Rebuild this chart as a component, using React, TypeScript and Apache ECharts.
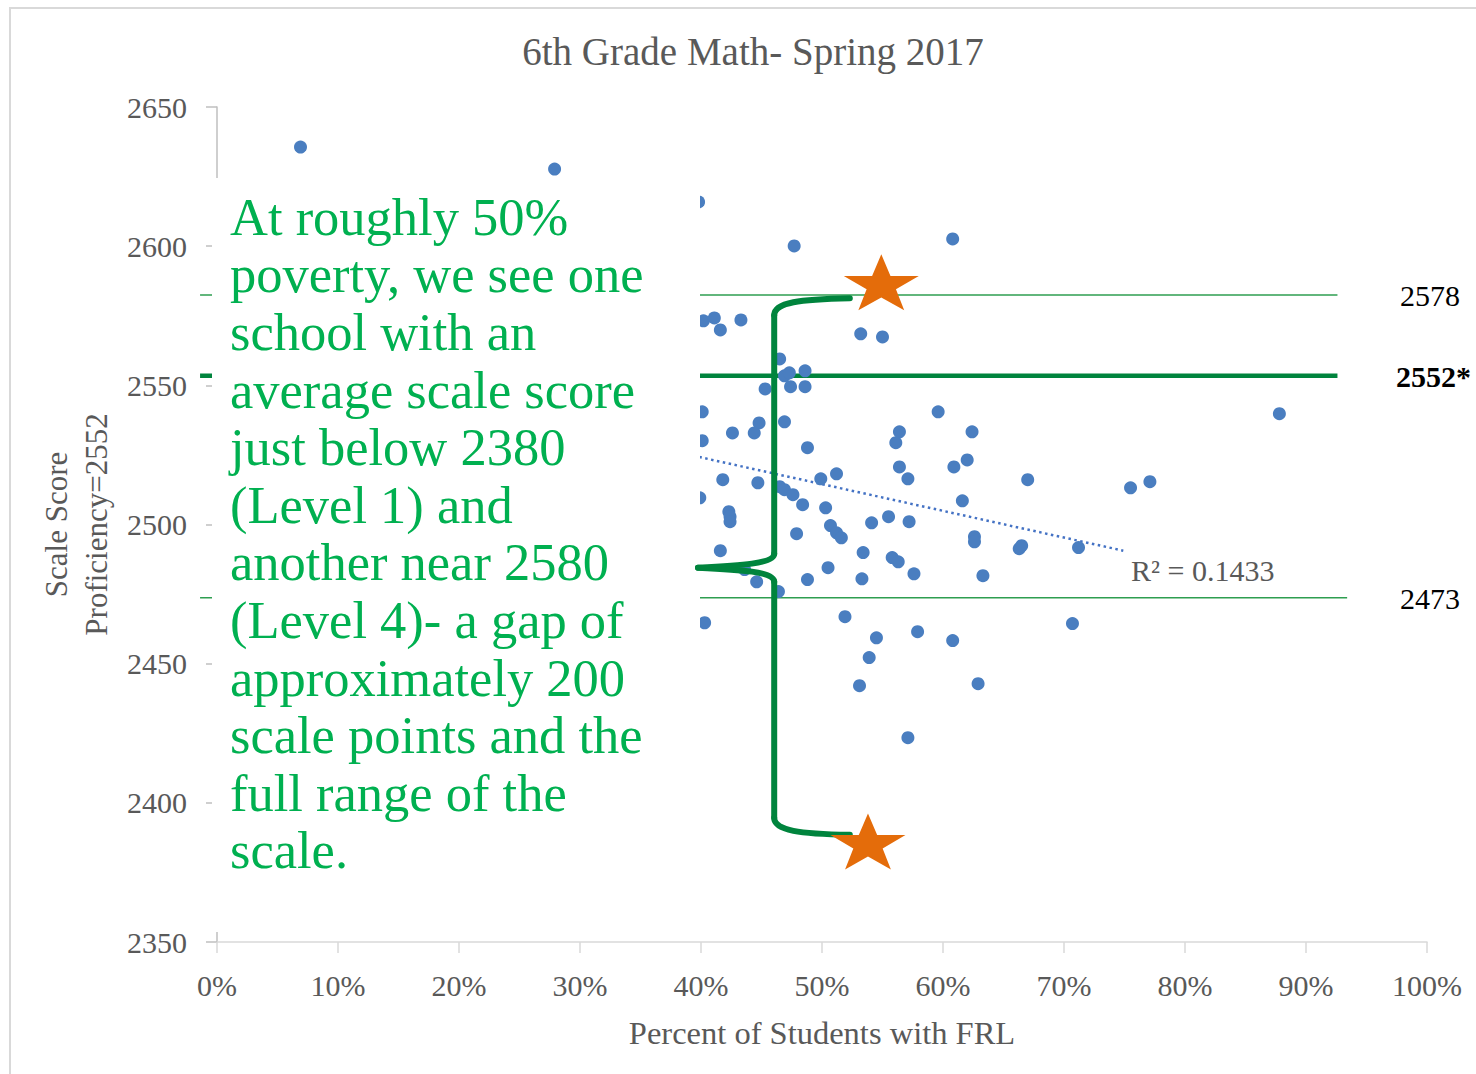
import { useEffect, useRef } from "react";
import * as echarts from "echarts";

// ---- data ----
const chartTitle = "6th Grade Math- Spring 2017";
const xAxisTitle = "Percent of Students with FRL";
const yAxisTitle = "Scale Score\nProficiency=2552";
const xTickValues = [0, 10, 20, 30, 40, 50, 60, 70, 80, 90, 100];
const yTickValues = [2350, 2400, 2450, 2500, 2550, 2600, 2650];

// [percent FRL, average scale score]
const schoolPoints: [number, number][] = [
  [6.9, 2635.6], [27.9, 2627.7], [39.8, 2615.9], [47.7, 2600.1], [60.8, 2602.6],
  [40.2, 2573.2], [41.1, 2574.2], [41.6, 2569.9], [43.3, 2573.5], [53.2, 2568.5],
  [55.0, 2567.4], [46.5, 2559.5], [46.9, 2553.4], [47.3, 2554.5], [48.6, 2555.2],
  [45.3, 2548.7], [47.4, 2549.5], [48.6, 2549.5], [40.1, 2540.5], [44.8, 2536.5],
  [46.9, 2536.9], [42.6, 2532.9], [44.4, 2532.9], [59.6, 2540.5], [56.4, 2533.3],
  [56.1, 2529.4], [62.4, 2533.3], [40.1, 2530.1], [48.8, 2527.6], [56.4, 2520.7],
  [57.1, 2516.4], [60.9, 2520.7], [62.0, 2523.2], [41.8, 2516.1], [44.7, 2515.0],
  [49.9, 2516.4], [51.2, 2518.2], [46.5, 2513.6], [46.9, 2512.5], [47.6, 2510.7],
  [39.9, 2509.6], [48.4, 2507.1], [50.3, 2506.0], [61.6, 2508.5], [42.3, 2504.6],
  [42.4, 2502.8], [42.4, 2501.0], [50.7, 2499.6], [51.2, 2497.0], [51.6, 2495.2],
  [47.9, 2496.7], [54.1, 2500.6], [55.5, 2502.8], [57.2, 2501.0], [62.6, 2495.6],
  [62.6, 2493.8], [41.6, 2490.6], [53.4, 2489.9], [55.8, 2488.1], [56.3, 2486.6],
  [57.6, 2482.3], [50.5, 2484.5], [63.3, 2481.6], [53.3, 2480.5], [48.8, 2480.2],
  [44.6, 2479.4], [43.6, 2483.8], [46.4, 2475.9], [40.3, 2464.7], [51.9, 2466.9],
  [54.5, 2459.3], [57.9, 2461.5], [60.8, 2458.3], [53.9, 2452.2], [53.1, 2442.1],
  [62.9, 2442.8], [57.1, 2423.4], [87.8, 2539.8], [67.0, 2516.1], [75.5, 2513.2],
  [77.1, 2515.4], [66.3, 2491.3], [66.5, 2492.4], [71.2, 2491.7], [70.7, 2464.4],
];

const trendPoints: [number, number][] = [[5, 2557.7], [74.9, 2490.6]];
const rSquaredText = "R\u00B2 = 0.1433";
const rSquaredAt: [number, number] = [75.0, 2483.4];

// reference levels: label text and where the hand-drawn line sits
const levelLabels = ["2578", "2552*", "2473"];
const levelLineAt = [2582.5, 2553.4, 2473.7];
const levelLineEnds = [92.6, 92.6, 93.4];

const starPoints: [number, number][] = [[54.9, 2587.0], [53.8, 2386.1]];

const noteLines = [
  "At roughly 50%",
  "poverty, we see one",
  "school with an",
  "average scale score",
  "just below 2380",
  "(Level 1) and",
  "another near 2580",
  "(Level 4)- a gap of",
  "approximately 200",
  "scale points and the",
  "full range of the",
  "scale.",
];

// brace annotation in data space
const brace = { x: 46.05, tipX: 39.75, endX: 52.3, top: 2581.3, bottom: 2388.5, tip: 2484.5 };

const SERIF = "'Liberation Serif', 'DejaVu Serif', serif";
const GRAY = "#595959";
const STAR_PATH =
  "path://M50,0 L61.8,35.1 L98.1,35.1 L68.8,56.7 L79.4,91.1 L50,70 L20.6,91.1 L31.2,56.7 L1.9,35.1 L38.2,35.1 Z";

export default function App() {
  const ref = useRef<HTMLDivElement>(null);

  useEffect(() => {
    document.body.style.margin = "0";
    if (!ref.current) return;
    const chart = echarts.init(ref.current, undefined, { renderer: "svg" });

    chart.setOption({
      animation: false,
      backgroundColor: "#ffffff",
      title: {
        text: chartTitle,
        left: 748,
        top: 27,
        textAlign: "center",
        textStyle: { fontFamily: SERIF, fontSize: 39, fontWeight: "normal", color: GRAY },
      },
      grid: { left: 217, right: 49, top: 107, bottom: 132, containLabel: false },
      xAxis: {
        type: "value",
        min: xTickValues[0],
        max: xTickValues[xTickValues.length - 1],
        interval: 10,
        name: xAxisTitle,
        nameLocation: "middle",
        nameGap: 74,
        nameTextStyle: { fontFamily: SERIF, fontSize: 32.5, color: GRAY },
        axisLine: { show: true, lineStyle: { color: "#d9d9d9", width: 1.5 } },
        axisTick: { show: true, inside: false, length: 11, lineStyle: { color: "#d9d9d9", width: 1.5 } },
        axisLabel: { margin: 28, fontFamily: SERIF, fontSize: 30, color: GRAY, formatter: "{value}%" },
        splitLine: { show: false },
      },
      yAxis: {
        type: "value",
        min: yTickValues[0],
        max: yTickValues[yTickValues.length - 1],
        interval: 50,
        name: yAxisTitle,
        nameLocation: "middle",
        nameRotate: 90,
        nameGap: 84,
        nameTextStyle: { fontFamily: SERIF, fontSize: 31, color: GRAY, lineHeight: 40 },
        axisLine: { show: true, lineStyle: { color: "#bfbfbf", width: 1.5 } },
        axisTick: { show: true, inside: false, length: 11, lineStyle: { color: "#bfbfbf", width: 1.5 } },
        axisLabel: {
          margin: 30,
          fontFamily: SERIF,
          fontSize: 30,
          color: GRAY,
          formatter: (v: number) => String(v),
        },
        splitLine: { show: false },
      },
      series: [
        {
          name: "Trend",
          type: "line",
          data: trendPoints,
          symbol: "none",
          z: 3,
          lineStyle: { color: "#4472C4", width: 2.5, type: [2.5, 3.5] },
        },
        {
          name: "Schools",
          type: "scatter",
          data: schoolPoints,
          symbol: "circle",
          symbolSize: 13,
          z: 4,
          itemStyle: { color: "#4A7EC0", opacity: 1 },
        },
        {
          name: "Stars",
          type: "scatter",
          data: starPoints,
          symbol: STAR_PATH,
          symbolSize: [75, 56],
          z: 30,
          itemStyle: { color: "#E46C0A", opacity: 1 },
        },
      ],
    });

    const P = (x: number, y: number) => chart.convertToPixel({ gridIndex: 0 }, [x, y]) as number[];

    const els: any[] = [];
    // outer border
    els.push({
      type: "rect",
      z: 0,
      shape: { x: 10, y: 8, width: 1500, height: 1100 },
      style: { fill: "none", stroke: "#d9d9d9", lineWidth: 2 },
      silent: true,
    });

    // level lines
    levelLineAt.forEach((v, i) => {
      const a = P(-1.4, v);
      const b = P(levelLineEnds[i], v);
      els.push({
        type: "line",
        z: 1,
        shape: { x1: a[0], y1: a[1], x2: b[0], y2: b[1] },
        style: {
          stroke: i === 1 ? "#00843D" : "#2E9E50",
          lineWidth: i === 1 ? 4.5 : 1.5,
        },
        silent: true,
      });
      els.push({
        type: "text",
        z: 5,
        x: i === 1 ? 1396 : 1400,
        y: a[1] + 1,
        style: {
          text: levelLabels[i],
          fontFamily: SERIF,
          fontSize: 30,
          fontWeight: i === 1 ? "bold" : "normal",
          fill: "#000000",
          verticalAlign: "middle",
          align: "left",
        },
      });
    });

    // R squared label
    const rp = P(rSquaredAt[0], rSquaredAt[1]);
    els.push({
      type: "text",
      z: 5,
      x: 1131,
      y: rp[1],
      style: { text: rSquaredText, fontFamily: SERIF, fontSize: 30, fill: GRAY, verticalAlign: "middle", align: "left" },
    });

    // white text box
    els.push({
      type: "rect",
      z: 10,
      shape: { x: 212, y: 178, width: 488, height: 754 },
      style: { fill: "#ffffff", stroke: "none" },
      silent: true,
    });
    els.push({
      type: "text",
      z: 11,
      x: 230,
      y: 188,
      style: {
        text: noteLines.join("\n"),
        fontFamily: SERIF,
        fontSize: 52.5,
        lineHeight: 57.6,
        fill: "#00B050",
        align: "left",
        verticalAlign: "top",
      },
    });

    // brace
    const [bx, topY] = P(brace.x, brace.top);
    const botY = P(brace.x, brace.bottom)[1];
    const tipY = P(brace.x, brace.tip)[1];
    const tipX = P(brace.tipX, brace.tip)[0];
    const endX = P(brace.endX, brace.top)[0];
    const bs = { stroke: "#00843D", lineWidth: 6, lineCap: "round", fill: "none" };
    els.push(
      {
        type: "bezierCurve",
        z: 25,
        shape: { x1: bx, y1: topY + 17, cpx1: bx, cpy1: topY + 4, cpx2: bx + 26, cpy2: topY + 1, x2: endX, y2: topY },
        style: bs,
      },
      { type: "line", z: 25, shape: { x1: bx, y1: topY + 17, x2: bx, y2: tipY - 14 }, style: bs },
      {
        type: "bezierCurve",
        z: 25,
        shape: { x1: bx, y1: tipY - 14, cpx1: bx, cpy1: tipY - 4, cpx2: bx - 34, cpy2: tipY - 2, x2: tipX, y2: tipY },
        style: bs,
      },
      {
        type: "bezierCurve",
        z: 25,
        shape: { x1: tipX, y1: tipY, cpx1: bx - 34, cpy1: tipY + 2, cpx2: bx, cpy2: tipY + 4, x2: bx, y2: tipY + 14 },
        style: bs,
      },
      { type: "line", z: 25, shape: { x1: bx, y1: tipY + 14, x2: bx, y2: botY - 17 }, style: bs },
      {
        type: "bezierCurve",
        z: 25,
        shape: { x1: bx, y1: botY - 17, cpx1: bx, cpy1: botY - 4, cpx2: bx + 26, cpy2: botY - 1, x2: endX, y2: botY },
        style: bs,
      }
    );

    chart.setOption({ graphic: { elements: els } });

    return () => {
      chart.dispose();
    };
  }, []);

  return <div ref={ref} style={{ width: 1476, height: 1074 }} />;
}
